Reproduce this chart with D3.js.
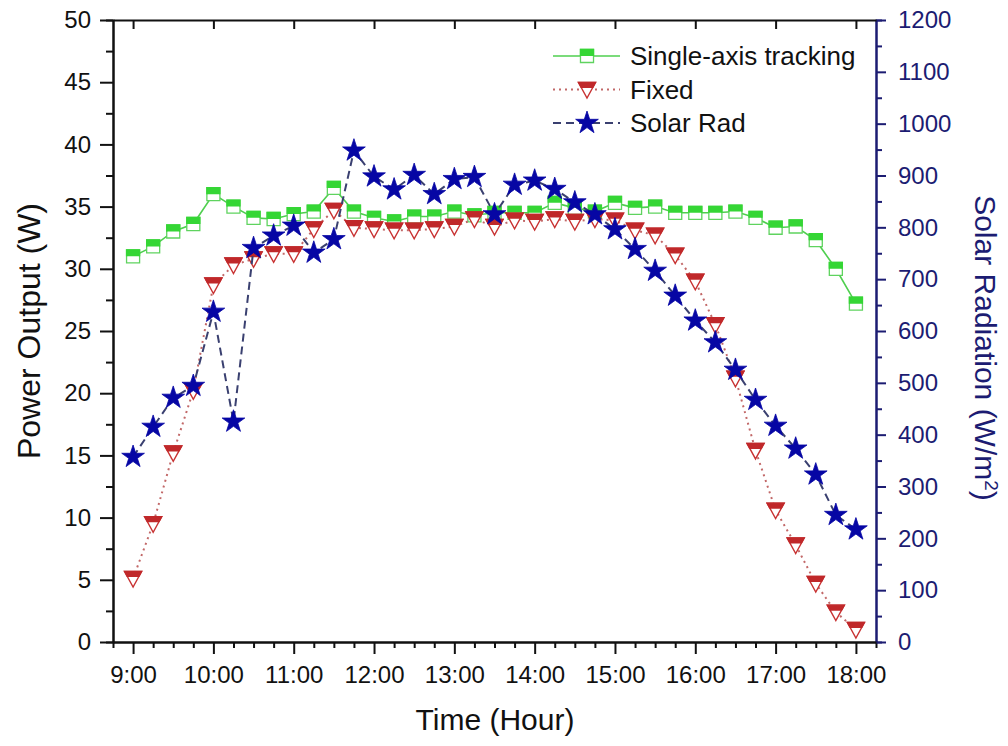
<!DOCTYPE html>
<html>
<head>
<meta charset="utf-8">
<script src="https://cdn.jsdelivr.net/npm/d3@7"></script>
<style>
  body { margin: 0; background: #fff; }
  svg { display: block; font-family: "Liberation Sans", Arial, sans-serif; }
</style>
</head>
<body>
<div id="viz"></div>
<script>
// time of day in hours, every 15 minutes from 9:00 to 18:00
const hours = d3.range(37).map(i => 9 + i * 0.25);
const hourTicks = [9, 10, 11, 12, 13, 14, 15, 16, 17, 18];
const hourLabels = ['9:00', '10:00', '11:00', '12:00', '13:00', '14:00', '15:00', '16:00', '17:00', '18:00'];

const tracking = [31.0, 31.8, 33.0, 33.6, 36.0, 35.0, 34.1, 34.0, 34.4, 34.6,
  36.5, 34.6, 34.1, 33.8, 34.2, 34.2, 34.6, 34.3, 34.5, 34.5,
  34.5, 35.3, 34.9, 34.6, 35.3, 34.9, 35.0, 34.5, 34.5, 34.5,
  34.6, 34.1, 33.3, 33.4, 32.3, 30.0, 27.2];

const fixed = [5.1, 9.5, 15.2, 20.2, 28.7, 30.3, 30.8, 31.2, 31.2, 33.2,
  34.7, 33.3, 33.2, 33.1, 33.1, 33.2, 33.4, 34.0, 33.4, 33.9,
  33.8, 34.0, 33.8, 34.0, 33.9, 33.1, 32.7, 31.1, 29.0, 25.5,
  21.2, 15.4, 10.6, 7.8, 4.7, 2.4, 1.0];

const solarRad = [357, 415, 471, 494, 637, 425, 760, 784, 803, 751,
  777, 948, 898, 873, 901, 864, 893, 897, 825, 882,
  890, 874, 848, 825, 796, 758, 716, 668, 620, 578,
  525, 467, 417, 373, 323, 245, 217];

const powerTicks = d3.range(0, 51, 5);
const radTicks = d3.range(0, 1201, 100);

const W = 1008, H = 746;
const plotL = 113, plotR = 876, plotT = 20, plotB = 642;
const navy = '#1c1c72';
const font = '"Liberation Sans", Arial, sans-serif';

const svg = d3.select('#viz').append('svg')
  .attr('width', W).attr('height', H);

svg.append('rect').attr('width', W).attr('height', H).attr('fill', '#fff');

const x = d3.scaleLinear().domain([8.75, 18.25]).range([plotL, plotR]);
const yL = d3.scaleLinear().domain([0, 50]).range([plotB, plotT]);
const yR = d3.scaleLinear().domain([0, 1200]).range([plotB, plotT]);

const defs = svg.append('defs');
defs.append('clipPath').attr('id', 'topHalf')
  .append('rect').attr('x', -20).attr('y', -20).attr('width', 40).attr('height', 20);
defs.append('clipPath').attr('id', 'topTri')
  .append('rect').attr('x', -20).attr('y', -20).attr('width', 40).attr('height', 18.5);

// axes
function styleAxis(g, color, fontSize) {
  g.attr('font-family', font);
  g.select('.domain').attr('stroke', color).attr('stroke-width', 2);
  g.selectAll('.tick line').attr('stroke', color).attr('stroke-width', 2);
  g.selectAll('.tick text').attr('fill', color).style('font-size', fontSize + 'px');
}

// minor ticks first
svg.append('g')
  .attr('transform', `translate(${plotL},0)`)
  .call(d3.axisLeft(yL).tickValues(d3.range(2.5, 50, 5)).tickSize(7).tickFormat(''))
  .call(g => styleAxis(g, '#111', 24));
svg.append('g')
  .attr('transform', `translate(${plotR},0)`)
  .call(d3.axisRight(yR).tickValues(d3.range(50, 1200, 100)).tickSize(6).tickFormat(''))
  .call(g => styleAxis(g, navy, 24));
svg.append('g')
  .attr('transform', `translate(0,${plotB})`)
  .call(d3.axisBottom(x).tickValues(hours.filter(h => h % 1 !== 0)).tickSize(6).tickFormat(''))
  .call(g => styleAxis(g, '#111', 24));

svg.append('g')
  .attr('transform', `translate(${plotL},0)`)
  .call(d3.axisLeft(yL).tickValues(powerTicks).tickSize(13).tickPadding(9).tickSizeOuter(0))
  .call(g => styleAxis(g, '#111', 24));

svg.append('g')
  .attr('transform', `translate(${plotR},0)`)
  .call(d3.axisRight(yR).tickValues(radTicks).tickFormat(d3.format('d')).tickSize(10).tickPadding(12).tickSizeOuter(0))
  .call(g => styleAxis(g, navy, 24));

svg.append('g')
  .attr('transform', `translate(0,${plotB})`)
  .call(d3.axisBottom(x).tickValues(hourTicks).tickFormat((d, i) => hourLabels[i]).tickSize(12).tickPadding(12).tickSizeOuter(0))
  .call(g => styleAxis(g, '#111', 24));

svg.append('g')
  .attr('transform', `translate(0,${plotT})`)
  .call(d3.axisBottom(x).tickValues(hourTicks).tickSize(9).tickFormat('').tickSizeOuter(0))
  .call(g => styleAxis(g, '#111', 24));

// axis titles
svg.append('text')
  .attr('transform', `translate(40,${(plotT + plotB) / 2}) rotate(-90)`)
  .attr('text-anchor', 'middle')
  .style('font-size', '32px').attr('fill', '#111')
  .text('Power Output (W)');

svg.append('text')
  .attr('x', 495).attr('y', 730)
  .attr('text-anchor', 'middle')
  .style('font-size', '30px').attr('fill', '#111')
  .text('Time (Hour)');

const rt = svg.append('text')
  .attr('transform', `translate(975,348) rotate(90)`)
  .attr('text-anchor', 'middle')
  .style('font-size', '30px').attr('fill', navy);
rt.append('tspan').text('Solar Radiation (W/m');
rt.append('tspan').attr('baseline-shift', 'super').style('font-size', '19px').text('2');
rt.append('tspan').text(')');

// series
const series = [
  { name: 'Single-axis tracking', values: tracking, y: yL, line: '#4fcf4f', dash: null, width: 1.6, marker: 'square' },
  { name: 'Fixed', values: fixed, y: yL, line: '#c26868', dash: '2,4', width: 2, marker: 'tri' },
  { name: 'Solar Rad', values: solarRad, y: yR, line: '#3a4070', dash: '8,5', width: 2, marker: 'star' }
];

const squarePath = d3.symbol(d3.symbolSquare, 170)();
const triPath = 'M-8.5,-7L8.5,-7L0,8.5Z';
const starPath = d3.symbol(d3.symbolStar, 160)();

function drawMarker(g, type) {
  if (type === 'square') {
    g.append('path').attr('d', squarePath).attr('fill', '#fff').attr('stroke', '#5fd35f').attr('stroke-width', 1.3);
    g.append('path').attr('d', squarePath).attr('fill', '#35d635').attr('stroke', '#35d635').attr('stroke-width', 1.3)
      .attr('clip-path', 'url(#topHalf)');
  } else if (type === 'tri') {
    g.append('path').attr('d', triPath).attr('fill', '#fff').attr('stroke', '#c83232').attr('stroke-width', 1.4);
    g.append('path').attr('d', triPath).attr('fill', '#c0282a').attr('stroke', '#c0282a').attr('stroke-width', 1.4)
      .attr('clip-path', 'url(#topTri)');
  } else {
    g.append('path').attr('d', starPath).attr('fill', '#0606a4').attr('stroke', '#0606a4').attr('stroke-width', 0.8);
  }
}

series.forEach(s => {
  const line = d3.line().x((d, i) => x(hours[i])).y(d => s.y(d));
  svg.append('path')
    .datum(s.values)
    .attr('d', line)
    .attr('fill', 'none')
    .attr('stroke', s.line)
    .attr('stroke-width', s.width)
    .attr('stroke-dasharray', s.dash);

  svg.append('g').selectAll('g')
    .data(s.values)
    .join('g')
    .attr('transform', (d, i) => `translate(${x(hours[i])},${s.y(d)})`)
    .each(function () { drawMarker(d3.select(this), s.marker); });
});

// legend
const legend = svg.append('g').attr('transform', 'translate(553,56)');
series.forEach((s, i) => {
  const row = legend.append('g').attr('transform', `translate(0,${i * 33.5})`);
  row.append('line')
    .attr('x1', 0).attr('x2', 67)
    .attr('stroke', s.line).attr('stroke-width', s.width)
    .attr('stroke-dasharray', s.dash);
  drawMarker(row.append('g').attr('transform', 'translate(34,0)'), s.marker);
  row.append('text')
    .attr('x', 77).attr('y', 0).attr('dy', '0.36em')
    .style('font-size', '26px').attr('fill', '#111')
    .text(s.name);
});
</script>
</body>
</html>
